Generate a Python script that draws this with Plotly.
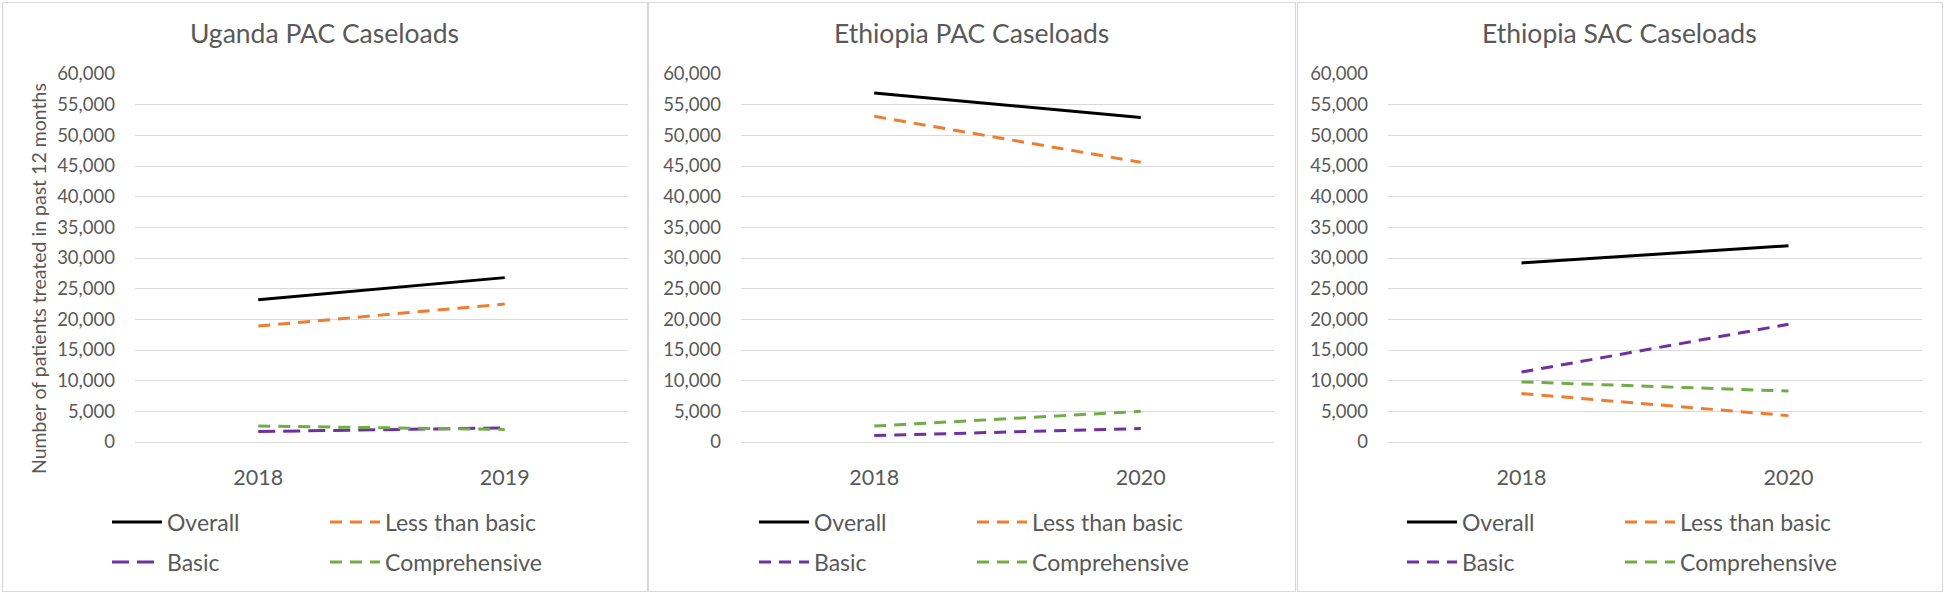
import plotly.graph_objects as go

# ---------------- data ----------------
years_uganda = ["2018", "2019"]
years_ethiopia = ["2018", "2020"]

series_names = ["Overall", "Less than basic", "Basic", "Comprehensive"]

uganda_pac_overall = [23200, 26800]
uganda_pac_less_than_basic = [18900, 22500]
uganda_pac_basic = [1700, 2300]
uganda_pac_comprehensive = [2600, 2050]

ethiopia_pac_overall = [56900, 52900]
ethiopia_pac_less_than_basic = [53100, 45600]
ethiopia_pac_basic = [1050, 2200]
ethiopia_pac_comprehensive = [2600, 5000]

ethiopia_sac_overall = [29200, 32000]
ethiopia_sac_less_than_basic = [7900, 4300]
ethiopia_sac_basic = [11400, 19200]
ethiopia_sac_comprehensive = [9800, 8300]

panel_titles = ["Uganda PAC Caseloads", "Ethiopia PAC Caseloads", "Ethiopia SAC Caseloads"]
y_title = "Number of patients treated in past 12 months"

# ---------------- styling ----------------
W, H = 1944, 594
FONT = "Lato"
TXT = "#595959"
GRID = "#d9d9d9"
colors = {"Overall": "#000000", "Less than basic": "#ED7D31",
          "Basic": "#7030A0", "Comprehensive": "#70AD47"}
dash_std = "12px,8px"


def px_x(v):
    return v / W


def px_y(v):
    return 1 - v / H


panels = [
    dict(years=years_uganda,
         vals=[uganda_pac_overall, uganda_pac_less_than_basic, uganda_pac_basic, uganda_pac_comprehensive],
         border=(2, 647), plot=(135, 628), legx=107, basic_dash="17px,8px"),
    dict(years=years_ethiopia,
         vals=[ethiopia_pac_overall, ethiopia_pac_less_than_basic, ethiopia_pac_basic, ethiopia_pac_comprehensive],
         border=(648, 1295), plot=(741, 1274), legx=754, basic_dash=dash_std),
    dict(years=years_ethiopia,
         vals=[ethiopia_sac_overall, ethiopia_sac_less_than_basic, ethiopia_sac_basic, ethiopia_sac_comprehensive],
         border=(1297, 1942), plot=(1388, 1922), legx=1402, basic_dash=dash_std),
]

PLOT_TOP, PLOT_BOT = 74, 442
LEG_ROWS = [522, 562]
ENTRY_W = 153

fig = go.Figure()
layout = dict(
    width=W, height=H,
    margin=dict(l=0, r=0, t=0, b=0, autoexpand=False),
    paper_bgcolor="white", plot_bgcolor="white",
    font=dict(family=FONT, color=TXT, size=19),
    showlegend=True,
)
shapes = []
annotations = []

for i, p in enumerate(panels):
    n = i + 1
    xa = "xaxis" if n == 1 else f"xaxis{n}"
    ya = "yaxis" if n == 1 else f"yaxis{n}"
    xr = "x" if n == 1 else f"x{n}"
    yr = "y" if n == 1 else f"y{n}"
    leg_a = "legend" if i == 0 else f"legend{2 * i + 1}"
    leg_b = f"legend{2 * i + 2}"

    for k, name in enumerate(series_names):
        if name == "Overall":
            dash = "solid"
        elif name == "Basic":
            dash = p["basic_dash"]
        else:
            dash = dash_std
        fig.add_trace(go.Scatter(
            x=p["years"], y=p["vals"][k], name=name, mode="lines",
            line=dict(color=colors[name], width=3, dash=dash),
            xaxis=xr, yaxis=yr,
            legend=leg_a if k < 2 else leg_b,
            hoverinfo="skip",
        ))

    layout[xa] = dict(
        domain=[px_x(p["plot"][0]), px_x(p["plot"][1])],
        anchor=yr, type="category", range=[-0.5, 1.5],
        showgrid=False, showline=False, zeroline=False, ticks="",
        tickfont=dict(size=21.5, color=TXT, family=FONT),
        ticklabelstandoff=20, fixedrange=True,
    )
    layout[ya] = dict(
        domain=[px_y(PLOT_BOT), px_y(PLOT_TOP)],
        anchor=xr, range=[0, 60000], dtick=5000, tickformat=",",
        showgrid=True, gridcolor=GRID, gridwidth=1,
        zeroline=True, zerolinecolor=GRID, zerolinewidth=1,
        showline=False, ticks="",
        tickfont=dict(size=18.5, color=TXT, family=FONT),
        ticklabelstandoff=19, fixedrange=True,
    )
    for leg, ry in ((leg_a, LEG_ROWS[0]), (leg_b, LEG_ROWS[1])):
        layout[leg] = dict(
            orientation="h", x=px_x(p["legx"]), xanchor="left",
            y=px_y(ry), yanchor="middle",
            entrywidth=ENTRY_W, entrywidthmode="pixels",
            itemwidth=50,
            bgcolor="rgba(0,0,0,0)", borderwidth=0,
            font=dict(size=23, color=TXT, family=FONT),
            itemclick=False, itemdoubleclick=False,
        )

    shapes.append(dict(type="rect", xref="paper", yref="paper",
                       x0=px_x(p["border"][0] + 0.5), x1=px_x(p["border"][1] + 0.5),
                       y0=px_y(591.5), y1=px_y(2.5),
                       line=dict(color=GRID, width=1.2), fillcolor="rgba(0,0,0,0)",
                       layer="below"))
    annotations.append(dict(
        text=panel_titles[i], xref="paper", yref="paper",
        x=px_x((p["border"][0] + p["border"][1]) / 2), y=px_y(33),
        xanchor="center", yanchor="middle", showarrow=False,
        font=dict(size=26.5, color=TXT, family=FONT),
    ))

annotations.append(dict(
    text=y_title, xref="paper", yref="paper",
    x=px_x(38), y=px_y(279), xanchor="center", yanchor="middle",
    textangle=-90, showarrow=False,
    font=dict(size=19.5, color=TXT, family=FONT),
))

layout["shapes"] = shapes
layout["annotations"] = annotations
fig.update_layout(**layout)

fig.write_html("out.html", config={"displayModeBar": False},
               post_script="document.body.style.margin='0';")
